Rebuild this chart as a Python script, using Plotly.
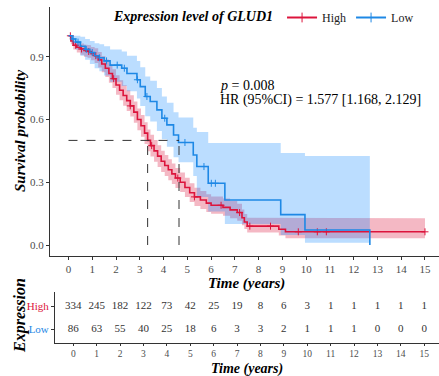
import plotly.graph_objects as go

# ---------------- data ----------------
# High expression group (KM steps: start time, survival, lower CI, upper CI)
high_t = [0, 0.1, 0.2, 0.35, 0.5, 0.65, 0.8, 0.95, 1.1, 1.25, 1.4, 1.55, 1.7, 1.85, 2.0, 2.15, 2.3, 2.45,
          2.6, 2.75, 2.9, 3.05, 3.2, 3.33, 3.45, 3.6, 3.75, 3.9, 4.05, 4.2, 4.35, 4.5, 4.7, 4.9, 5.1, 5.3,
          5.55, 5.8, 6.0, 6.5, 6.8, 7.1, 7.3, 7.4, 7.52, 8.85, 9.13]
high_s = [1.0, 0.975, 0.955, 0.945, 0.937, 0.93, 0.925, 0.915, 0.905, 0.885, 0.865, 0.845, 0.82, 0.795, 0.765,
          0.74, 0.715, 0.69, 0.665, 0.635, 0.60, 0.57, 0.535, 0.50, 0.475, 0.45, 0.425, 0.40, 0.38, 0.36, 0.34,
          0.32, 0.30, 0.275, 0.25, 0.23, 0.215, 0.20, 0.19, 0.18, 0.168, 0.155, 0.13, 0.11, 0.09, 0.075, 0.063]
high_lo = [1.0, 0.96, 0.935, 0.92, 0.91, 0.90, 0.895, 0.883, 0.87, 0.848, 0.826, 0.803, 0.776, 0.75, 0.718,
           0.692, 0.666, 0.64, 0.614, 0.584, 0.548, 0.518, 0.483, 0.448, 0.423, 0.398, 0.373, 0.349, 0.33, 0.31,
           0.291, 0.272, 0.253, 0.229, 0.205, 0.186, 0.172, 0.158, 0.149, 0.14, 0.128, 0.116, 0.094, 0.077,
           0.06, 0.045, 0.032]
high_hi = [1.0, 0.99, 0.975, 0.97, 0.963, 0.958, 0.955, 0.947, 0.94, 0.922, 0.904, 0.887, 0.864, 0.84, 0.812,
           0.788, 0.764, 0.74, 0.716, 0.686, 0.652, 0.622, 0.587, 0.552, 0.527, 0.502, 0.477, 0.451, 0.43, 0.41,
           0.389, 0.368, 0.347, 0.321, 0.295, 0.274, 0.258, 0.242, 0.232, 0.222, 0.21, 0.197, 0.17, 0.148,
           0.13, 0.128, 0.128]
high_end = 15.0
high_censor = [0.08, 0.3, 0.55, 0.85, 1.15, 1.9, 2.6, 3.5, 4.6, 5.3, 6.42, 7.2, 7.63, 8.5, 9.67, 10.47, 10.85, 15.0]

# Low expression group
low_t = [0, 0.15, 0.3, 0.5, 0.7, 0.9, 1.1, 1.3, 1.5, 1.75, 2.24, 2.46, 2.88, 3.02, 3.23, 3.44, 3.72, 3.93,
         4.14, 4.42, 4.63, 5.25, 5.4, 5.88, 6.58, 8.93, 9.95, 12.68]
low_s = [1.0, 0.985, 0.97, 0.95, 0.935, 0.92, 0.905, 0.895, 0.88, 0.86, 0.845, 0.82, 0.79, 0.757, 0.71, 0.686,
         0.646, 0.606, 0.574, 0.526, 0.49, 0.43, 0.375, 0.295, 0.215, 0.145, 0.072, 0.0]
low_lo = [1.0, 0.96, 0.935, 0.905, 0.885, 0.865, 0.845, 0.83, 0.81, 0.78, 0.76, 0.735, 0.70, 0.665, 0.615,
          0.59, 0.545, 0.505, 0.47, 0.42, 0.395, 0.33, 0.23, 0.16, 0.10, 0.048, 0.011, 0.011]
low_hi = [1.0, 1.0, 1.0, 0.995, 0.985, 0.975, 0.965, 0.96, 0.95, 0.935, 0.925, 0.905, 0.88, 0.85, 0.805,
          0.785, 0.75, 0.71, 0.68, 0.635, 0.61, 0.56, 0.54, 0.487, 0.487, 0.44, 0.426, 0.426]
low_end = 12.68
low_censor = [0.2, 0.4, 0.75, 1.0, 1.3, 1.6, 2.05, 2.35, 2.9, 3.3, 4.05, 4.9, 5.7, 6.01, 6.18]

# medians
high_median = 3.33
low_median = 4.65

# number at risk table
risk_times = list(range(0, 16))
risk_high = [334, 245, 182, 122, 73, 42, 25, 19, 8, 6, 3, 1, 1, 1, 1, 1]
risk_low = [86, 63, 55, 40, 25, 18, 6, 3, 3, 2, 1, 1, 1, 0, 0, 0]

x_ticks = list(range(0, 16))
y_ticks = [0.0, 0.3, 0.6, 0.9]
y_ticklabels = ["0.0", "0.3", "0.6", "0.9"]

RED = "#DC143C"
BLUE = "#1E88E5"
RED_FILL = "rgba(220,20,60,0.30)"
BLUE_FILL = "rgba(30,144,255,0.30)"
SERIF = "Liberation Serif, Times New Roman, serif"
W, H = 439, 376


def steps(t, v, end):
    xs, ys = [], []
    for i in range(len(t)):
        nxt = t[i + 1] if i + 1 < len(t) else end
        xs += [t[i], nxt]
        ys += [v[i], v[i]]
    return xs, ys


def step_at(t, v, x):
    val = v[0]
    for ti, vi in zip(t, v):
        if ti <= x:
            val = vi
    return val


fig = go.Figure()

for t, lo, hi, end, fill in [
    (high_t, high_lo, high_hi, high_end, RED_FILL),
    (low_t, low_lo, low_hi, low_end, BLUE_FILL),
]:
    ux, uy = steps(t, hi, end)
    lx, ly = steps(t, lo, end)
    fig.add_trace(go.Scatter(x=ux + lx[::-1], y=uy + ly[::-1], fill="toself", fillcolor=fill,
                             line=dict(width=0), mode="lines", hoverinfo="skip", showlegend=False,
                             xaxis="x", yaxis="y"))

for t, s, end, col, cens in [
    (high_t, high_s, high_end, RED, high_censor),
    (low_t, low_s, low_end, BLUE, low_censor),
]:
    sx, sy = steps(t, s, end)
    fig.add_trace(go.Scatter(x=sx, y=sy, mode="lines", line=dict(color=col, width=1.6),
                             showlegend=False, xaxis="x", yaxis="y"))
    fig.add_trace(go.Scatter(x=cens, y=[step_at(t, s, c) for c in cens], mode="markers",
                             marker=dict(symbol="cross-thin", size=5, line=dict(color=col, width=1)),
                             showlegend=False, xaxis="x", yaxis="y"))

# legend entries
for col, name in [(RED, "High"), (BLUE, "Low")]:
    fig.add_trace(go.Scatter(x=[None], y=[None], mode="lines+markers", name=name,
                             line=dict(color=col, width=2),
                             marker=dict(symbol="cross-thin", size=7, line=dict(color=col, width=1)),
                             xaxis="x", yaxis="y"))

# median dashed lines
dash = dict(color="#333333", width=1, dash="dash")
fig.add_shape(type="line", xref="x", yref="y", x0=0, x1=low_median, y0=0.5, y1=0.5, line=dash)
fig.add_shape(type="line", xref="x", yref="y", x0=high_median, x1=high_median, y0=0, y1=0.5, line=dash)
fig.add_shape(type="line", xref="x", yref="y", x0=low_median, x1=low_median, y0=0, y1=0.5, line=dash)

# risk table numbers
for vals, yv in [(risk_high, 1), (risk_low, 0)]:
    fig.add_trace(go.Scatter(x=risk_times, y=[yv] * len(vals), mode="text", text=[str(v) for v in vals],
                             textfont=dict(family=SERIF, size=11, color="#333333"),
                             showlegend=False, xaxis="x2", yaxis="y2"))

axis_common = dict(showgrid=False, zeroline=False, showline=True, linecolor="#333333", linewidth=1,
                   ticks="outside", ticklen=3, tickcolor="#333333",
                   tickfont=dict(family=SERIF, size=11, color="#4D4D4D"))

fig.update_layout(
    width=W, height=H, margin=dict(l=0, r=0, t=0, b=0),
    paper_bgcolor="white", plot_bgcolor="white",
    font=dict(family=SERIF),
    xaxis=dict(domain=[50 / W, 1], range=[-0.778, 15.59], tickvals=x_ticks, anchor="y", **axis_common),
    yaxis=dict(domain=[(H - 256) / H, (H - 7) / H], range=[-0.0526, 1.1377], tickvals=y_ticks,
               ticktext=y_ticklabels, anchor="x", **axis_common),
    xaxis2=dict(domain=[55 / W, 1], range=[-0.78, 15.63], tickvals=x_ticks, anchor="y2",
                **{**axis_common, "ticklen": 2, "tickfont": dict(family=SERIF, size=9.5, color="#4D4D4D")}),
    yaxis2=dict(domain=[(H - 343) / H, (H - 292) / H], range=[-0.609, 1.609], tickvals=[1, 0],
                ticktext=[f"<span style='color:{RED}'>High</span>", f"<span style='color:{BLUE}'>Low</span>"],
                anchor="x2", **{**axis_common, "tickfont": dict(family=SERIF, size=11)}),
    legend=dict(orientation="h", x=112 / W, xanchor="left", y=1 - 3 / H, yanchor="top",
                title=dict(text="<b><i>Expression level of GLUD1</i></b>", side="left",
                           font=dict(family=SERIF, size=14, color="black")),
                font=dict(family=SERIF, size=12, color="#222222"), itemwidth=30,
                bgcolor="rgba(0,0,0,0)"),
)

annos = [
    dict(text="<i>p</i> = 0.008", x=218 / W, y=1 - 85 / H, xanchor="left", yanchor="middle",
         font=dict(family=SERIF, size=14, color="black")),
    dict(text="HR (95%CI) = 1.577 [1.168, 2.129]", x=218 / W, y=1 - 100 / H, xanchor="left", yanchor="middle",
         font=dict(family=SERIF, size=14, color="black")),
    dict(text="<b><i>Survival probability</i></b>", x=20 / W, y=1 - 131 / H, textangle=-90,
         xanchor="center", yanchor="middle", font=dict(family=SERIF, size=15, color="black")),
    dict(text="<b><i>Time (years)</i></b>", x=246 / W, y=1 - 283 / H, xanchor="center", yanchor="middle",
         font=dict(family=SERIF, size=15, color="black")),
    dict(text="<b><i>Expression</i></b>", x=20 / W, y=1 - 316 / H, textangle=-90,
         xanchor="center", yanchor="middle", font=dict(family=SERIF, size=16, color="black")),
    dict(text="<b><i>Time (years)</i></b>", x=247 / W, y=1 - 369 / H, xanchor="center", yanchor="middle",
         font=dict(family=SERIF, size=14, color="black")),
]
for a in annos:
    fig.add_annotation(xref="paper", yref="paper", showarrow=False, **a)

fig.write_html("out.html")
